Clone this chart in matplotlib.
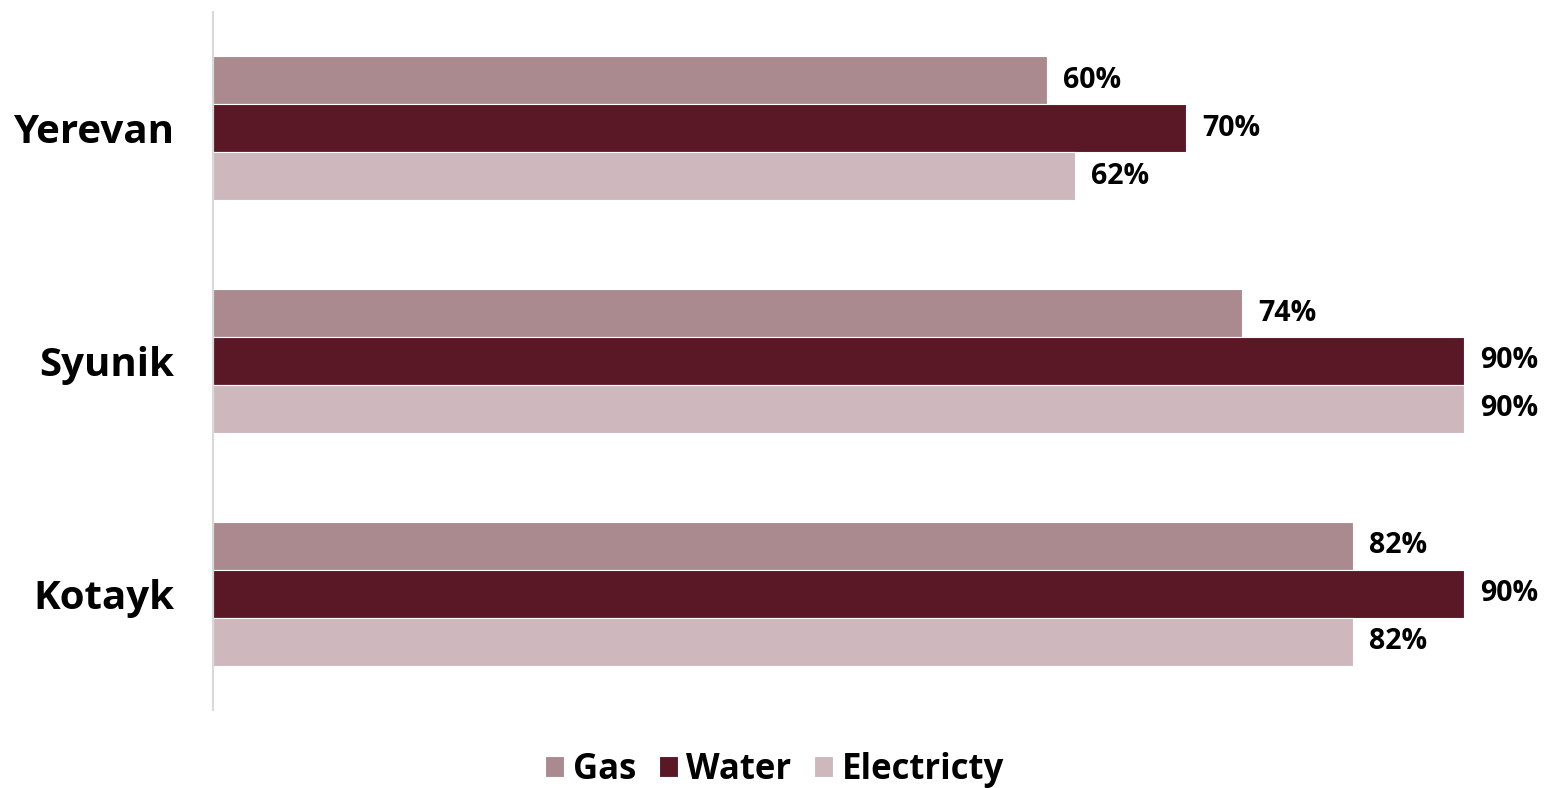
import matplotlib
matplotlib.use("Agg")
import matplotlib.pyplot as plt
import numpy as np

regions = ["Yerevan", "Syunik", "Kotayk"]
series = ["Gas", "Water", "Electricty"]
gas = [60, 74, 82]
water = [70, 90, 90]
electricity = [62, 90, 82]
colors = ["#AB8A8F", "#5A1826", "#CFB8BD"]

plt.rcParams["font.family"] = ["Open Sans", "DejaVu Sans"]
plt.rcParams["font.weight"] = "bold"

fig = plt.figure(figsize=(15.49, 7.88), dpi=100)
ax = fig.add_axes([213 / 1549, 1 - 710 / 788, 1 - 213 / 1549, (710 - 12) / 788])

y = np.arange(len(regions))
h = 0.206
values = [gas, water, electricity]
for i, (vals, col, name) in enumerate(zip(values, colors, series)):
    pos = y + (i - 1) * h
    bars = ax.barh(pos, vals, height=h, color=col, edgecolor="white",
                   linewidth=0.8, label=name)
    for b, v in zip(bars, vals):
        ax.annotate(f"{v}%", (b.get_width(), b.get_y() + b.get_height() / 2),
                    xytext=(16, 0), textcoords="offset pixels",
                    va="center", ha="left", fontsize=20.5, fontweight="bold")

ax.set_ylim(2.5, -0.5)
ax.set_xlim(0, 96.1)
ax.set_yticks(y)
ax.set_yticklabels(regions, fontsize=29, fontweight="bold")
ax.tick_params(axis="y", length=0, pad=28)
ax.set_xticks([])
for s in ["top", "right", "bottom"]:
    ax.spines[s].set_visible(False)
ax.spines["left"].set_color("#D9D9D9")
ax.spines["left"].set_linewidth(1.5)

leg = fig.legend(loc="center", bbox_to_anchor=(0.5, 1 - 770 / 788), ncol=3,
                 frameon=False, prop={"size": 25, "weight": "bold"},
                 handlelength=0.55, handleheight=0.55, handletextpad=0.25,
                 columnspacing=0.65)

fig.savefig("out.png", dpi=100)
